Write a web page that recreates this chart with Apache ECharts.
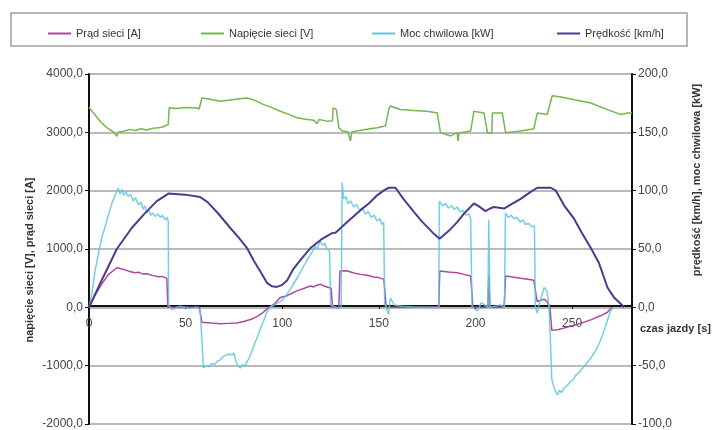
<!DOCTYPE html>
<html>
<head>
<meta charset="utf-8">
<script src="https://cdn.jsdelivr.net/npm/echarts@6/dist/echarts.min.js"></script>
<style>html,body{margin:0;padding:0;background:#fff}#c{width:712px;height:430px}</style>
</head>
<body>
<div id="c"></div>
<script>
// ---- data: [time s, value] ----
const seriesNames = ['Prąd sieci [A]', 'Napięcie sieci [V]', 'Moc chwilowa [kW]', 'Prędkość [km/h]'];
const xTicks = [0, 50, 100, 150, 200, 250];

const current = [[0,0],[3,200],[6.5,395],[10,560],[14.4,678],[18,650],[21,615],[23.8,593],[26,600],[28,570],[30,575],[32.5,548],[36,525],[38,530],[40.3,497],[40.8,0],[57.1,0],[58.4,-254],[63,-270],[67.9,-282],[72,-275],[76.6,-270],[80,-243],[84,-205],[86.9,-158],[90,-90],[92.1,-28],[93.2,0],[96,60],[99,169],[102.5,200],[105.8,254],[107.6,282],[110,310],[114.6,367],[116.3,350],[118,380],[119.7,395],[122,360],[124,339],[125.3,330],[126,0],[129.3,0],[129.9,621],[133.5,627],[137,590],[140.5,565],[144,550],[147.3,520],[150,510],[152.6,480],[153.8,0],[181,0],[181.5,621],[186,605],[190.5,593],[194,565],[197.5,537],[198.7,0],[206.4,0],[206.9,537],[207.5,0],[214.8,0],[215.6,537],[219,520],[223.4,497],[227,480],[230.2,463],[231.4,200],[232,100],[235.5,141],[237,100],[238.5,0],[239.5,-395],[243,-380],[247.6,-339],[252,-300],[256.2,-254],[260,-210],[264.9,-141],[268.3,-85],[270,-20],[271,0]];

const voltage = [[0,3430],[3,3300],[6,3180],[8.3,3107],[11,3040],[13,3000],[14.4,2930],[15,3000],[18,3020],[21.2,3051],[24,3030],[27,3060],[29.9,3040],[33,3070],[36,3080],[38.5,3096],[41,3136],[41.5,3420],[45,3410],[50,3425],[55.8,3418],[57,3400],[58.4,3588],[62,3570],[67.9,3531],[72,3550],[77,3570],[81.7,3588],[85,3560],[90.4,3475],[95,3420],[99,3362],[104,3300],[107.6,3249],[112,3225],[116.3,3209],[118,3150],[119,3220],[123.2,3192],[126,3200],[126.3,3418],[128,3390],[129.3,3079],[131,3022],[134,3010],[135.3,2853],[136,3005],[140,3030],[143.8,3051],[149,3080],[153.4,3107],[155.1,3390],[155.8,3450],[161.2,3390],[168,3375],[175,3362],[180.2,3333],[181.9,2995],[187.1,2938],[190.5,2995],[191,2853],[191.5,2990],[197.5,3022],[199.2,3362],[204.4,3333],[206.2,2995],[208.5,2995],[208.7,3333],[213.9,3333],[215.6,2995],[223.4,3022],[230.2,3062],[232,3333],[237.1,3305],[239.7,3627],[245,3600],[251,3559],[259.7,3503],[268.3,3390],[275.2,3305],[278.6,3333],[281,3330]];

const power = [[0,0],[1.5,12],[3.1,31],[5,47],[6.5,59],[8.5,70],[10,79],[12,90],[13.5,96],[15.2,102],[16,97],[17,101],[18,96],[19,99],[20.3,95],[21.5,97],[23,91],[24,94],[25.6,88],[27,90],[28,84],[29,87],[29.9,81],[31,83],[32,79],[33,81],[34.2,78],[35.5,80],[37,77],[38,79],[39.4,75],[40.5,77],[41,74],[41.2,2],[43,-2],[47,1],[52,-1],[56,0],[57.5,-2],[58.5,-30],[59.2,-52],[60.5,-50],[62,-51],[63.5,-48],[65,-49],[66.5,-46],[68,-45],[69.5,-42],[71,-41],[72.5,-40],[74,-41],[75,-39],[76,-46],[77,-50],[78.3,-52],[79.5,-49],[80.5,-51],[81.7,-47],[83,-43],[84.5,-37],[86,-30],[87.5,-24],[89,-17],[90.5,-11],[92,-4],[93.7,0],[97,3],[100,6],[102,10],[104,15],[105.8,20],[108,26],[110,32],[112,38],[114.6,45],[116,49],[117,53],[118,50],[119.7,57],[121,53],[122,55],[123.2,50],[124.5,48],[125,2],[129,-1],[130.5,0],[131,107],[131.8,93],[133,95],[134,89],[135.5,91],[137,86],[138.5,88],[140,83],[141.5,85],[143,80],[144.5,82],[146,77],[147.5,79],[149,74],[150.5,76],[151.7,71],[152.5,73],[153,3],[155,-6],[156,8],[158,2],[162,1],[170,0],[181,0],[181.3,91],[183,87],[184.5,89],[186,85],[187.5,87],[189,84],[190.5,86],[192,82],[193.5,83],[195,79],[196.6,80],[197.5,76],[198.2,0],[201,-3],[203,4],[206.4,0],[206.9,75],[207.5,0],[213,2],[215,0],[215.5,81],[217,77],[218.5,79],[220,76],[221.5,77],[223,73],[224.5,75],[226,71],[227.5,72],[229,69],[230.5,70],[231,0],[232,-5],[233,3],[235.5,17],[237,14],[238,2],[238.8,-30],[239.5,-62],[240.5,-68],[241.5,-72],[242.4,-75],[243.5,-71],[244.5,-73],[246,-69],[247.5,-67],[249,-64],[250.5,-62],[252,-58],[253.5,-56],[255,-53],[256.5,-50],[258,-47],[259.5,-44],[261,-40],[262.5,-36],[264,-31],[265.5,-25],[267,-18],[268.5,-10],[270,-3],[271,0]];

const speed = [[0,0],[6.5,23],[14.4,50],[22.1,68],[29.1,81],[35.1,91],[41.1,97.5],[49.8,96.6],[57.5,94.6],[61.5,90],[67.1,80],[73.1,68],[77.4,60],[81.7,51],[85.3,40],[88.6,31],[92.1,21],[94.7,18],[97.2,17.5],[99.7,19],[102.5,23],[105.8,33],[110.1,42],[114.6,50.8],[120,58],[125.8,63.6],[127.6,64],[132.9,72],[140.5,83.3],[144.8,89],[149.1,96],[152.8,100.5],[155.1,102.5],[158.6,102.5],[162.7,93],[168,82],[172.6,73],[178.5,63],[181.4,58.7],[186.5,66],[190.5,73],[194.4,81],[199.2,89],[201.4,87],[205.2,82.5],[207.3,84.5],[209.5,86],[214.8,84.7],[218.2,88],[223.4,93],[228.2,98.5],[232,102.5],[239,102.5],[241.6,100],[246,87],[251,76],[255,64],[259.7,50.8],[263.9,38],[268.3,17],[271.7,8.5],[277,0]];

const colors = ['#b0479f', '#72b84f', '#5cc6e0', '#4b3b8f'];
const FONT = 'Liberation Sans, Arial, sans-serif';
const fmt = v => v.toFixed(1).replace('.', ',');

const chart = echarts.init(document.getElementById('c'), null, {renderer: 'canvas'});
const legendLefts = [43, 196, 367, 552];
const Y_MIN = -2000, Y_MAX = 4000, GRID_TOP = 74, GRID_BOTTOM = 2, H = 430;
const plotH = H - GRID_TOP - GRID_BOTTOM;
// move x axis (line + labels) up to the zero level of the left axis
const xOffset = -plotH * (0 - Y_MIN) / (Y_MAX - Y_MIN);
const option = {
  animation: false,
  textStyle: {fontFamily: FONT},
  grid: {left: 89, right: 80, top: GRID_TOP, bottom: GRID_BOTTOM, containLabel: false},
  legend: seriesNames.map((n, i) => ({
    data: [n], left: legendLefts[i], top: 23, icon: 'rect', itemWidth: 23, itemHeight: 2,
    itemGap: 4, textStyle: {fontSize: 11, color: '#333', fontFamily: FONT}, selectedMode: false
  })),
  xAxis: {
    type: 'value', min: 0, max: 281, interval: 50, position: 'bottom', offset: xOffset,
    axisLine: {onZero: false, lineStyle: {color: '#111', width: 2}},
    axisTick: {show: true, length: 3, lineStyle: {color: '#111'}},
    axisLabel: {showMaxLabel: false, margin: 12, fontSize: 12, color: '#444', fontFamily: FONT},
    splitLine: {show: false}
  },
  yAxis: [
    {
      type: 'value', position: 'left', min: Y_MIN, max: Y_MAX, interval: 1000,
      axisLine: {show: true, lineStyle: {color: '#111', width: 2}},
      axisTick: {show: true, length: 4, lineStyle: {color: '#111'}},
      axisLabel: {formatter: fmt, margin: 6, fontSize: 12, color: '#444', fontFamily: FONT},
      splitLine: {show: true, lineStyle: {color: '#a3a3a3', width: 1.5}}
    },
    {
      type: 'value', position: 'right', min: -100, max: 200, interval: 50,
      axisLine: {show: true, lineStyle: {color: '#111', width: 2}},
      axisTick: {show: true, length: 4, lineStyle: {color: '#111'}},
      axisLabel: {formatter: fmt, margin: 6, fontSize: 12, color: '#444', fontFamily: FONT},
      splitLine: {show: false}
    }
  ],
  graphic: [
    {type: 'rect', shape: {x: 11, y: 13, width: 676, height: 33}, style: {fill: 'none', stroke: '#a0a0a0', lineWidth: 1.5}},
    {type: 'text', x: 30, y: 260, rotation: Math.PI / 2,
      style: {text: 'napięcie sieci [V], prąd sieci [A]', textAlign: 'center', textVerticalAlign: 'middle', font: 'bold 11px ' + FONT, fill: '#333'}},
    {type: 'text', x: 697, y: 180, rotation: Math.PI / 2,
      style: {text: 'prędkość [km/h], moc chwilowa [kW]', textAlign: 'center', textVerticalAlign: 'middle', font: 'bold 11px ' + FONT, fill: '#333'}},
    {type: 'text', x: 640, y: 329,
      style: {text: 'czas jazdy [s]', textAlign: 'left', textVerticalAlign: 'middle', font: 'bold 11px ' + FONT, fill: '#333'}}
  ],
  series: [
    {name: seriesNames[0], type: 'line', yAxisIndex: 0, data: current, showSymbol: false, lineStyle: {width: 1.5, color: colors[0]}, itemStyle: {color: colors[0]}, z: 2},
    {name: seriesNames[1], type: 'line', yAxisIndex: 0, data: voltage, showSymbol: false, lineStyle: {width: 1.5, color: colors[1]}, itemStyle: {color: colors[1]}, z: 2},
    {name: seriesNames[2], type: 'line', yAxisIndex: 1, data: power, showSymbol: false, lineStyle: {width: 1.5, color: colors[2], opacity: 0.85}, itemStyle: {color: colors[2]}, z: 3},
    {name: seriesNames[3], type: 'line', yAxisIndex: 1, data: speed, showSymbol: false, lineStyle: {width: 2, color: colors[3]}, itemStyle: {color: colors[3]}, z: 4}
  ]
};
chart.setOption(option);
</script>
</body>
</html>
